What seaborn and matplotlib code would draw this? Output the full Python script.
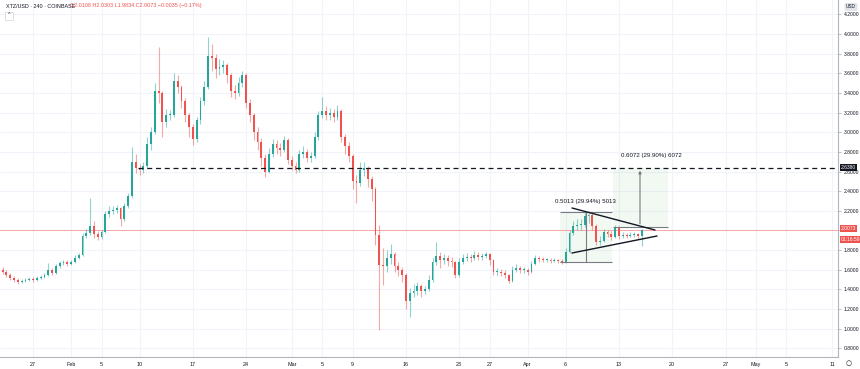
import numpy as np
import pandas as pd
import matplotlib
matplotlib.use("Agg")
import matplotlib.pyplot as plt
import matplotlib.dates as mdates
from matplotlib.patches import Rectangle
import seaborn as sns

# ---------------- data (12h candles) ----------------
start = "2020-01-23 00:00"
first_open = 1.60
close = [1.58, 1.55, 1.52, 1.50, 1.48, 1.49, 1.50, 1.51, 1.50, 1.52,
         1.53, 1.55, 1.60, 1.57, 1.64, 1.67, 1.68, 1.66, 1.68, 1.72,
         1.75, 1.94, 1.97, 2.05, 1.96, 1.93, 1.98, 2.17, 2.20, 2.21,
         2.23, 2.12, 2.25, 2.35, 2.70, 2.64, 2.62, 2.66, 2.88, 3.00,
         3.42, 3.40, 3.10, 3.18, 3.18, 3.52, 3.46, 3.32, 3.18, 3.05,
         2.93, 3.12, 3.32, 3.46, 3.78, 3.76, 3.64, 3.66, 3.68, 3.58,
         3.42, 3.40, 3.50, 3.58, 3.30, 3.18, 3.00, 2.90, 2.74, 2.60,
         2.78, 2.88, 2.84, 2.82, 2.92, 2.72, 2.66, 2.62, 2.78, 2.80,
         2.74, 2.76, 2.95, 3.18, 3.22, 3.17, 3.20, 3.15, 3.22, 2.95,
         2.86, 2.76, 2.50, 2.48, 2.62, 2.64, 2.52, 2.42, 1.95, 1.65,
         1.64, 1.72, 1.76, 1.64, 1.60, 1.55, 1.28, 1.36, 1.38, 1.44,
         1.38, 1.40, 1.50, 1.68, 1.74, 1.70, 1.72, 1.69, 1.68, 1.55,
         1.68, 1.72, 1.73, 1.72, 1.75, 1.73, 1.74, 1.76, 1.70, 1.58,
         1.58, 1.57, 1.55, 1.49, 1.60, 1.62, 1.60, 1.60, 1.58, 1.66,
         1.72, 1.71, 1.70, 1.70, 1.69, 1.70, 1.69, 1.68, 1.78, 1.97,
         2.05, 2.06, 2.06, 2.15, 2.16, 2.05, 1.88, 1.89, 1.98, 1.96,
         1.93, 2.04, 1.94, 1.95, 1.94, 1.95, 1.96, 1.94, 2.0073]
high = [1.63, 1.60, 1.57, 1.54, 1.52, 1.51, 1.52, 1.53, 1.53, 1.54,
        1.55, 1.57, 1.67, 1.62, 1.66, 1.69, 1.70, 1.70, 1.70, 1.75,
        1.77, 1.97, 2.02, 2.33, 2.10, 1.99, 2.01, 2.20, 2.25, 2.25,
        2.26, 2.24, 2.28, 2.38, 2.85, 2.78, 2.68, 2.70, 2.95, 3.05,
        3.50, 3.87, 3.42, 3.24, 3.23, 3.60, 3.58, 3.48, 3.35, 3.20,
        3.08, 3.15, 3.36, 3.52, 3.97, 3.90, 3.80, 3.74, 3.73, 3.70,
        3.60, 3.48, 3.56, 3.62, 3.60, 3.34, 3.20, 3.05, 2.94, 2.78,
        2.84, 2.93, 2.92, 2.89, 2.96, 2.94, 2.76, 2.70, 2.82, 2.86,
        2.83, 2.80, 3.00, 3.22, 3.36, 3.27, 3.25, 3.24, 3.28, 3.24,
        2.98, 2.90, 2.78, 2.56, 2.70, 2.70, 2.66, 2.55, 2.44, 2.06,
        1.82, 1.80, 1.86, 1.78, 1.68, 1.63, 1.57, 1.42, 1.46, 1.48,
        1.46, 1.44, 1.55, 1.72, 1.88, 1.78, 1.76, 1.75, 1.73, 1.69,
        1.72, 1.76, 1.77, 1.76, 1.79, 1.78, 1.77, 1.78, 1.77, 1.71,
        1.62, 1.61, 1.60, 1.56, 1.64, 1.66, 1.64, 1.63, 1.62, 1.69,
        1.75, 1.74, 1.73, 1.72, 1.72, 1.72, 1.71, 1.71, 1.82, 2.00,
        2.10, 2.12, 2.12, 2.20, 2.20, 2.18, 2.07, 1.94, 2.02, 2.01,
        1.99, 2.06, 2.05, 1.98, 1.97, 1.98, 1.98, 1.97, 2.02]
low = [1.56, 1.53, 1.50, 1.48, 1.46, 1.47, 1.48, 1.49, 1.48, 1.49,
       1.51, 1.52, 1.54, 1.55, 1.56, 1.62, 1.65, 1.64, 1.65, 1.67,
       1.71, 1.74, 1.92, 1.95, 1.92, 1.90, 1.91, 1.97, 2.14, 2.17,
       2.18, 2.05, 2.10, 2.23, 2.33, 2.58, 2.56, 2.58, 2.64, 2.82,
       2.98, 3.30, 2.95, 3.05, 3.12, 3.15, 3.40, 3.25, 3.10, 2.95,
       2.87, 2.90, 3.08, 3.28, 3.44, 3.62, 3.55, 3.58, 3.60, 3.50,
       3.36, 3.34, 3.37, 3.46, 3.25, 3.10, 2.92, 2.82, 2.66, 2.54,
       2.58, 2.75, 2.78, 2.76, 2.80, 2.68, 2.62, 2.58, 2.60, 2.74,
       2.70, 2.70, 2.74, 2.92, 3.14, 3.12, 3.12, 3.10, 3.12, 2.90,
       2.78, 2.70, 2.42, 2.28, 2.45, 2.55, 2.44, 2.30, 1.85, 0.99,
       1.45, 1.58, 1.66, 1.58, 1.54, 1.48, 1.20, 1.12, 1.32, 1.34,
       1.32, 1.35, 1.38, 1.48, 1.65, 1.62, 1.66, 1.64, 1.63, 1.52,
       1.53, 1.66, 1.69, 1.68, 1.70, 1.70, 1.70, 1.72, 1.65, 1.55,
       1.55, 1.54, 1.52, 1.47, 1.48, 1.58, 1.57, 1.57, 1.55, 1.57,
       1.65, 1.68, 1.68, 1.68, 1.67, 1.68, 1.67, 1.66, 1.67, 1.77,
       1.95, 2.00, 2.00, 2.04, 2.08, 2.00, 1.85, 1.85, 1.88, 1.93,
       1.90, 1.92, 1.91, 1.92, 1.92, 1.93, 1.93, 1.91, 1.84]

tick_dates = ["2020-01-27", "2020-02-01", "2020-02-05", "2020-02-10", "2020-02-17",
              "2020-02-24", "2020-03-01", "2020-03-05", "2020-03-09", "2020-03-16",
              "2020-03-23", "2020-03-27", "2020-04-01", "2020-04-06", "2020-04-13",
              "2020-04-20", "2020-04-27", "2020-05-01", "2020-05-05", "2020-05-11"]
tick_labels = ["27", "Feb", "5", "10", "17", "24", "Mar", "5", "9", "16",
               "23", "27", "Apr", "6", "13", "20", "27", "May", "5", "11"]
price_ticks = [0.8, 1.0, 1.2, 1.4, 1.6, 1.8, 2.0, 2.2, 2.4, 2.6, 2.8,
               3.0, 3.2, 3.4, 3.6, 3.8, 4.0, 4.2]
level_price = 2.6380
last_price = 2.0073
countdown = "01:16:59"
range1_label = "0.5013 (29.94%) 5013"
range2_label = "0.6072 (29.90%) 6072"
header_left = "XTZ/USD · 240 · COINBASE"
header_ohlc = "O2.0108 H2.0303 L1.9834 C2.0073 −0.0035 (−0.17%)"

# ---------------- style ----------------
sns.set_theme(style="white")
plt.rcParams['font.family'] = ['Liberation Sans', 'DejaVu Sans']
UP, DOWN = "#26a69a", "#ef5350"
TXT = "#131722"

fig = plt.figure(figsize=(8.6, 3.69), dpi=100)
ax = fig.add_axes([0, 12 / 369, 838 / 860, 357 / 369])

t = pd.date_range(start, periods=len(close), freq="12h")
x = mdates.date2num(t)
c = np.array(close)
o = np.r_[first_open, c[:-1]]
cols = np.where(c >= o, UP, DOWN)
x0 = mdates.date2num(pd.Timestamp(start))

def d(days):
    return x0 + days

ax.set_xlim(d(-0.342), d(109.78))
ax.set_ylim(0.713, 4.345)

# grid
ax.set_yticks(price_ticks)
ax.set_xticks(mdates.date2num(pd.to_datetime(tick_dates)))
ax.grid(True, color="#f0f3fa", lw=0.8)
ax.set_axisbelow(True)

# range boxes (behind candles)
ax.add_patch(Rectangle((d(73.25), 1.676), d(80.08) - d(73.25), 2.191 - 1.676,
                       facecolor="#4caf50", alpha=0.07, lw=0, zorder=1))
ax.add_patch(Rectangle((d(80.17), 2.039), d(87.44) - d(80.17), level_price - 2.039,
                       facecolor="#4caf50", alpha=0.07, lw=0, zorder=1))

# last price line
ax.axhline(last_price, color="#f4a6a5", lw=0.7, zorder=1.5)

# candles
ax.vlines(x, low, high, colors=cols, lw=0.8, alpha=0.5, zorder=2)
body = np.maximum(np.abs(c - o), 0.006)
ax.bar(x, body, bottom=np.minimum(o, c), width=0.24, color=cols, lw=0, zorder=3)

# dashed level
ax.hlines(level_price, d(17.8), d(109.78), colors=TXT, linestyles=(0, (4, 3)), lw=0.9, zorder=4)

# range 1 lines
g = "#787b86"
ax.hlines([2.191, 1.676], d(73.25), d(80.08), colors=g, lw=0.8, zorder=4)
ax.vlines(d(76.63), 1.676, 2.191, colors=g, lw=0.8, zorder=4)
ax.text(d(76.6), 2.265, range1_label, fontsize=4.4, color=TXT, ha="center", va="bottom", zorder=5)
# range 2 lines
ax.hlines(2.039, d(80.17), d(87.44), colors=g, lw=0.8, zorder=4)
ax.annotate("", xy=(d(83.76), level_price), xytext=(d(83.76), 2.039),
            arrowprops=dict(arrowstyle="-|>", color=g, lw=0.8, mutation_scale=4), zorder=4)
ax.text(d(85.2), 2.74, range2_label, fontsize=4.4, color=TXT, ha="center", va="bottom", zorder=5)

# triangle
ax.plot([d(74.82), d(85.73)], [2.229, 2.005], color=TXT, lw=1.0, zorder=5)
ax.plot([d(74.82), d(86.0)], [1.771, 1.944], color=TXT, lw=1.0, zorder=5)

# axes styling
for s in ["left", "top"]:
    ax.spines[s].set_visible(False)
for s in ["right", "bottom"]:
    ax.spines[s].set_color("#b2b5be")
    ax.spines[s].set_linewidth(0.8)
ax.yaxis.tick_right()
# the 2.0000 label sits under the last-price tag, as on the reference
ax.set_yticklabels(["" if abs(v - 2.0) < 1e-9 else f"{v:.4f}" for v in price_ticks])
ax.set_xticklabels(tick_labels)
ax.tick_params(axis="y", labelsize=3.6, colors=TXT, length=2.5, width=0.6, pad=1.5,
               color="#b2b5be")
ax.tick_params(axis="x", labelsize=3.9, colors=TXT, length=0, pad=3.5)
ax.set_xlabel("")
ax.set_ylabel("")

# price tags on the right axis
tr = ax.get_yaxis_transform()
tag = dict(transform=tr, fontsize=3.6, color="white", ha="left", va="center",
           zorder=6, clip_on=False)
ax.text(1.003, level_price, f"{level_price:.4f}",
        bbox=dict(boxstyle="square,pad=0.2", fc=TXT, ec="none"), **tag)
ax.text(1.003, last_price + 0.008, f"{last_price:.4f}",
        bbox=dict(boxstyle="square,pad=0.2", fc=DOWN, ec="none"), **tag)
ax.text(1.003, last_price - 0.098, countdown,
        bbox=dict(boxstyle="square,pad=0.2", fc=DOWN, ec="none"), **tag)

# header
fig.text(6 / 860, 1 - 6 / 369, header_left, fontsize=3.9, color=TXT, ha="left", va="center")
fig.text(70 / 860, 1 - 6 / 369, header_ohlc, fontsize=3.9, color=DOWN, ha="left", va="center")
fig.text(9 / 860, 1 - 16 / 369, "⌃", fontsize=4, color=TXT, ha="center", va="center",
         family=["DejaVu Sans"],
         bbox=dict(boxstyle="square,pad=0.3", fc="white", ec="#d1d4dc", lw=0.5))
fig.text(851 / 860, 1 - 7 / 369, "USD", fontsize=3.4, color=TXT, ha="center", va="center",
         bbox=dict(boxstyle="round,pad=0.3", fc="#e0e3eb", ec="none"))
fig.text(849 / 860, 1 - 363 / 369, "○", fontsize=5, color=TXT, ha="center", va="center",
         family=["DejaVu Sans"])

fig.savefig("out.png", dpi=100, facecolor="white")
